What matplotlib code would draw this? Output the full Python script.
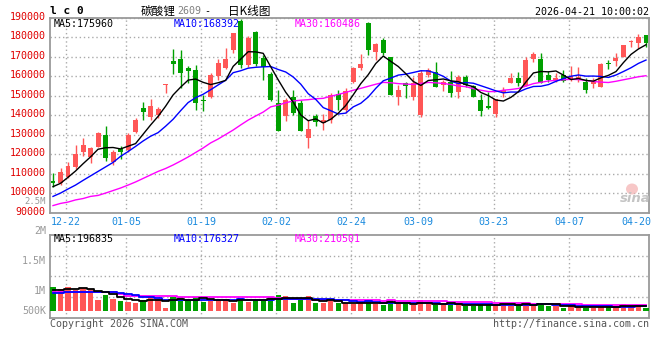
import numpy as np
import pandas as pd
import matplotlib
matplotlib.use('Agg')
import matplotlib.pyplot as plt
from matplotlib.patches import Ellipse
from matplotlib.transforms import ScaledTranslation

holidays = ['2026-01-01', '2026-01-02', '2026-02-16', '2026-02-17', '2026-02-18',
            '2026-02-19', '2026-02-20', '2026-02-23', '2026-04-06']
days = pd.bdate_range('2025-12-18', '2026-04-21')
days = days[~days.isin(pd.to_datetime(holidays))]
day_labels = list(days.strftime('%m-%d'))

tick_dates = ['12-22', '01-05', '01-19', '02-02', '02-24', '03-09', '03-23', '04-07', '04-20']

opens = [106500, 105200, 108600, 113600, 121400, 118500, 124000, 130000, 116300, 122800,
         122300, 131700, 143900, 139300, 140200, 155700, 167900, 168900, 164100, 163300,
         147900, 149300, 160200, 164400, 173500, 188500, 165800, 182600, 169200, 161200,
         146200, 139800, 149600, 146200, 128300, 139700, 136300, 137600, 150800, 142800,
         157300, 164400, 187500, 172600, 178600, 169800, 149600, 156400, 149600, 140200,
         160700, 162400, 155600, 157300, 152100, 159500, 155100, 147900, 144800, 140600,
         152000, 156800, 159000, 155100, 168700, 168700, 160700, 158100, 160700, 158100,
         158100, 157300, 155900, 154700, 166900, 168000, 170100, 177500, 177000, 181200]
highs = [110300, 113200, 116100, 124800, 128300, 123700, 131300, 134700, 122300, 124500,
         131000, 138500, 147000, 148400, 144100, 156000, 174000, 173500, 165500, 165800,
         150400, 161900, 168700, 174400, 182300, 189500, 180700, 183000, 170900, 162200,
         153000, 148800, 153000, 147900, 137600, 140700, 140700, 151500, 153000, 154000,
         165000, 171300, 187700, 177200, 179500, 170100, 155600, 157300, 159800, 163300,
         164300, 167500, 158100, 162900, 160700, 160700, 155600, 150800, 152100, 148300,
         154700, 161900, 162400, 170100, 172600, 172100, 162900, 161900, 163300, 165300,
         165000, 159000, 159000, 167000, 168400, 172000, 176300, 178600, 181700, 181200]
lows = [103500, 104300, 107800, 112700, 119200, 115800, 123700, 116800, 114600, 117500,
        121300, 130800, 137600, 137600, 138500, 151600, 161200, 153900, 156400, 142800,
        142300, 148800, 158100, 163600, 172100, 164300, 165000, 165300, 158100, 147400,
        131800, 137300, 140200, 131800, 123500, 134700, 132500, 136000, 142800, 141200,
        156400, 163300, 170900, 168400, 170900, 150200, 145300, 148800, 147900, 139200,
        159700, 154500, 152700, 149300, 148800, 154400, 149400, 139700, 143500, 139000,
        149600, 156400, 155100, 154900, 167500, 156600, 157300, 157300, 157300, 157800,
        157300, 151500, 153900, 154500, 163800, 165300, 169700, 175000, 174700, 175200]
closes = [105500, 111200, 114200, 120400, 124800, 123100, 130800, 118000, 121100, 121100,
          130000, 137600, 141900, 144800, 143300, 155900, 166500, 161900, 162700, 146200,
          147400, 160700, 166700, 168700, 182100, 165800, 179800, 166300, 165000, 147900,
          132200, 147900, 141100, 132200, 133000, 136800, 137600, 150400, 147900, 152700,
          164100, 166200, 173500, 176400, 171800, 150500, 153000, 155200, 156400, 161600,
          163300, 154700, 157300, 151600, 159500, 155600, 149600, 142400, 143600, 148200,
          153000, 159000, 156800, 168400, 171500, 156800, 158100, 159000, 157800, 160200,
          159500, 153000, 157300, 166300, 166500, 169200, 176100, 178100, 180300, 177300]
volumes = [923000, 835000, 923000, 808000, 873000, 835000, 423000, 627000, 450000, 396000,
           346000, 296000, 423000, 588000, 450000, 115000, 550000, 550000, 412000, 550000,
           346000, 435000, 412000, 462000, 319000, 512000, 358000, 450000, 423000, 527000,
           604000, 565000, 296000, 488000, 565000, 296000, 308000, 373000, 296000, 296000,
           281000, 346000, 412000, 281000, 231000, 412000, 281000, 281000, 219000, 412000,
           281000, 231000, 231000, 296000, 219000, 192000, 192000, 269000, 281000, 281000,
           231000, 204000, 204000, 335000, 219000, 296000, 204000, 204000, 104000, 181000,
           154000, 127000, 127000, 165000, 181000, 192000, 258000, 204000, 204000, 127000]

# MA values at the left edge (they need bars before the window)
ma5_head = [103500, 105200, 108300, 111500]
ma10_head = [98500, 100200, 102300, 104300, 106700, 109000, 111300, 113600, 115900]
ma30_head = [93800, 94900, 95600, 96700, 97400, 98500, 99000, 100200, 101500, 102800,
             104300, 105900, 107700, 109500, 111300, 112800, 114600, 116600, 118700, 121000,
             123300, 125900, 127900, 130200, 132500, 135100, 137600, 139700, 141700]
vma5_head = [800000, 820000, 840000, 850000]
vma10_head = [700000, 710000, 720000, 730000, 740000, 750000, 740000, 740000, 720000]
vma30_head = [750000] * 9 + [660000] + [560000] * 7 + [540000] * 6 + [525000] * 6

RED = '#ff5656'
GREEN = '#00a000'
MAGENTA = '#ff00ff'
BLUE = '#0000ff'
GRID = '#aaaaaa'
FRAME = '#9a9a9a'
DATE_BLUE = '#1a8ade'
MONO = 'DejaVu Sans Mono'
CJK = ['Noto Sans CJK SC', 'DejaVu Sans']
FS = 7.2


def moving_avg(values, n, head):
    s = pd.Series(values, dtype=float).rolling(n).mean()
    s.iloc[:len(head)] = head
    return s.values


W, H = 660.0, 360.0


def px_box(left, top, right, bottom):
    return [left / W, 1 - bottom / H, (right - left) / W, (bottom - top) / H]


def fig_text(x, y, s, **kw):
    fig.text(x / W, 1 - y / H, s, **kw)


fig = plt.figure(figsize=(6.6, 3.6), dpi=100)
ax = fig.add_axes(px_box(50, 17.8, 649, 213))
axv = fig.add_axes(px_box(50, 234.7, 649, 318))

x = np.arange(len(closes))
o, h, l, c = (np.asarray(a, dtype=float) for a in (opens, highs, lows, closes))
colors = np.where(c >= o, RED, GREEN)
tick_pos = [day_labels.index(d) - 0.27 for d in tick_dates]

# ---- price panel ----
ax.vlines(x, l, h, colors=colors, lw=1, zorder=3, clip_on=False)
ax.bar(x, np.maximum(np.abs(c - o), 450), bottom=np.minimum(o, c), width=0.66,
       color=colors, lw=0, zorder=3, clip_on=False)
ax.plot(x, moving_avg(closes, 30, ma30_head), color=MAGENTA, lw=1, zorder=4)
ax.plot(x, moving_avg(closes, 10, ma10_head), color=BLUE, lw=1, zorder=4)
ax.plot(x, moving_avg(closes, 5, ma5_head), color='black', lw=1, zorder=4)

ax.set_xlim(-0.4, len(x) - 0.6)
ax.set_ylim(90000, 190000)
ax.set_yticks(np.arange(90000, 190001, 10000))
ax.set_yticklabels([str(v) for v in range(90000, 190001, 10000)],
                   family=MONO, fontsize=FS, color='#e00000')
ax.yaxis.grid(True, ls=(0, (1, 2)), color=GRID, lw=1)
ax.set_xticks(tick_pos)
ax.set_xticklabels(tick_dates, family=MONO, fontsize=FS, color=DATE_BLUE)
ax.tick_params(length=0, pad=3)
# sina prints the price labels a little above their grid lines
lift = ScaledTranslation(0, 2 / 100, fig.dpi_scale_trans)
for lab in ax.get_yticklabels():
    lab.set_transform(lab.get_transform() + lift)

for p in tick_pos[:-1]:
    ax.axvline(p, ls=(0, (1, 2)), color=GRID, lw=1, zorder=1)
    axv.axvline(p, ls=(0, (1, 2)), color=GRID, lw=1, zorder=1)

# ---- volume panel ----
axv.bar(x, volumes, width=0.7, color=colors, lw=0, zorder=3)
axv.plot(x, moving_avg(volumes, 30, vma30_head), color=MAGENTA, lw=1.3,
         drawstyle='steps-mid', zorder=4)
axv.plot(x, moving_avg(volumes, 10, vma10_head), color=BLUE, lw=1.3,
         drawstyle='steps-mid', zorder=4)
axv.plot(x, moving_avg(volumes, 5, vma5_head), color='black', lw=1.3,
         drawstyle='steps-mid', zorder=4)
axv.set_xlim(ax.get_xlim())
vlo, vhi = -269000, 2935000
axv.set_ylim(vlo, vhi)
axv.set_yticks([vlo + f * (vhi - vlo) for f in (0.25, 0.5, 0.75)])
axv.set_yticklabels([])
axv.set_xticks([])
axv.yaxis.grid(True, ls=(0, (1, 2)), color=GRID, lw=1)
axv.tick_params(length=0)

for a in (ax, axv):
    for sp in a.spines.values():
        sp.set_color(FRAME)
        sp.set_linewidth(1.3)

# volume scale labels as sina draws them (the top one spills into the price panel)
fig_text(46, 201, '2.5M', ha='right', va='center', family=MONO, fontsize=6.4, color='#999999')
for s, yy in [('2M', 230.7), ('1.5M', 260.7), ('1M', 290.7), ('500K', 310.7)]:
    fig_text(46, yy, s, ha='right', va='center', family=MONO, fontsize=FS, color='#999999')

# ---- header / legends ----
fig_text(50, 11.5, 'l c 0', ha='left', va='center', family=MONO, fontsize=8,
         fontweight='bold', color='black')
fig_text(141, 11, '碳酸锂', ha='left', va='center', family=CJK, fontsize=8.4, color='black')
fig_text(177, 11.5, '2609', ha='left', va='center', family=MONO, fontsize=FS, color='#808080')
fig_text(207, 11, '-', ha='center', va='center', family=MONO, fontsize=FS, color='black')
fig_text(228, 11, '日K线图', ha='left', va='center', family=CJK, fontsize=8.4, color='black')
fig_text(649, 12, '2026-04-21 10:00:02', ha='right', va='center', family=MONO,
         fontsize=FS, color='black')

fig_text(54, 24, 'MA5:175960', ha='left', va='center', family=MONO, fontsize=FS, color='black')
fig_text(174, 24, 'MA10:168392', ha='left', va='center', family=MONO, fontsize=FS, color=BLUE)
fig_text(295, 24, 'MA30:160486', ha='left', va='center', family=MONO, fontsize=FS, color=MAGENTA)
fig_text(54, 238.5, 'MA5:196835', ha='left', va='center', family=MONO, fontsize=FS, color='black')
fig_text(174, 238.5, 'MA10:176327', ha='left', va='center', family=MONO, fontsize=FS, color=BLUE)
fig_text(295, 238.5, 'MA30:210501', ha='left', va='center', family=MONO, fontsize=FS, color=MAGENTA)

fig_text(50, 324, 'Copyright 2026 SINA.COM', ha='left', va='center', family=MONO,
         fontsize=FS, color='#555555')
fig_text(649, 324, 'http://finance.sina.com.cn', ha='right', va='center', family=MONO,
         fontsize=FS, color='#555555')

# sina watermark
fig.patches.append(Ellipse((632 / W, 1 - 189 / H), 12 / W, 11 / H, transform=fig.transFigure,
                           facecolor='#f4b0b0', edgecolor='none', alpha=0.7))
fig_text(635, 199, 'sina', ha='center', va='center', fontsize=9.5, fontweight='bold',
         style='italic', color='#c4c4c4')

fig.savefig('out.png', dpi=100)
plt.close(fig)
